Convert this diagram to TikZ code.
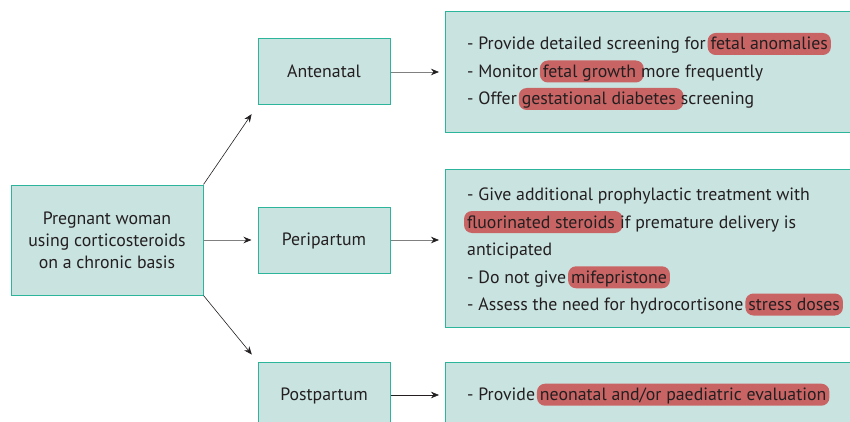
\documentclass[tikz,border=0pt]{standalone}
\usepackage{fontspec}
\setmainfont{PT Sans}
\usetikzlibrary{arrows.meta,calc}
\definecolor{boxfill}{HTML}{C9E3E0}
\definecolor{boxline}{HTML}{2DB59C}
\definecolor{hlred}{HTML}{C96464}
\definecolor{txt}{HTML}{231F20}
\definecolor{lgray}{HTML}{808080}
\newcommand{\tsp}{\ \null}
\begin{document}
\begin{tikzpicture}[x=1pt,y=-1pt,
  font=\fontsize{17.8}{22}\selectfont,
  box/.style={draw=boxline, line width=1pt, fill=boxfill, text=txt, align=center, inner sep=0pt},
  lbl/.style={box, minimum width=132pt, minimum height=66pt, text height=12.5pt, text depth=1pt},
  bigbox/.style={box, anchor=north west, minimum width=415pt},
  plain/.style={inner sep=0pt, anchor=base west, text=txt},
  hl/.style={fill=hlred, rounded corners=8pt, inner xsep=3pt, inner ysep=0pt, text height=17pt, text depth=5pt, anchor=text, text=txt},
  arr/.style={-{Stealth[length=8pt,width=6.5pt,color=txt]}, line width=0.8pt}]
\clip (0,0) rectangle (850,422);
% boxes
\node[box, minimum width=192pt, minimum height=110pt] (main) at (107,240) {Pregnant woman\\using corticosteroids\\on a chronic basis};
\node[lbl] (ante) at (324,72) {Antenatal};
\node[lbl] (peri) at (324,240) {Peripartum};
\node[lbl] (post) at (324,395) {Postpartum};
\node[bigbox, minimum height=121pt] (rante) at (445,11) {};
\node[bigbox, minimum height=158pt] (rperi) at (445,169) {};
\node[bigbox, minimum height=70pt] (rpost) at (445,362) {};
% antenatal text
\node[plain] (a1) at (467,50) {- Provide detailed screening for\tsp};
\node[hl] (a1h) at (a1.base east) {fetal anomalies};
\node[plain] (a2) at (467,77.5) {- Monitor\tsp};
\node[hl] (a2h) at (a2.base east) {fetal growth\tsp};
\node[plain] (a2e) at ([xshift=-3pt]a2h.base east) {more frequently};
\node[plain] (a3) at (467,105) {- Offer\tsp};
\node[hl] (a3h) at (a3.base east) {gestational diabetes\tsp};
\node[plain] (a3e) at ([xshift=-3pt]a3h.base east) {screening};
% peripartum text
\node[plain] (p1) at (467,200) {- Give additional prophylactic treatment with};
\node[hl] (p2h) at (467,228) {fluorinated steroids\tsp};
\node[plain] (p2e) at ([xshift=-3pt]p2h.base east) {if premature delivery is};
\node[plain] (p3) at (467,255.7) {anticipated};
\node[plain] (p4) at (467,283.3) {- Do not give\tsp};
\node[hl] (p4h) at (p4.base east) {mifepristone};
\node[plain] (p5) at (467,310.5) {- Assess the need for hydrocortisone\tsp};
\node[hl] (p5h) at (p5.base east) {stress doses};
% postpartum text
\node[plain] (q1) at (467,400.7) {- Provide\tsp};
\node[hl] (q1h) at (q1.base east) {neonatal and/or paediatric evaluation};
% arrows
\draw[arr, draw=txt, line width=0.6pt, shorten >=10.5pt] (main.north east) -- (ante.south west);
\draw[arr, draw=lgray, shorten >=6pt] (main.east) -- (peri.west);
\draw[arr, draw=txt, line width=0.6pt, shorten >=9pt] (main.south east) -- (post.north west);
\draw[arr, draw=lgray, shorten >=6pt] (ante.east) -- (ante.east -| rante.west);
\draw[arr, draw=lgray, shorten >=6pt] (peri.east) -- (peri.east -| rperi.west);
\draw[arr, draw=txt, line width=0.6pt, shorten >=6pt] (post.east) -- (post.east -| rpost.west);
\end{tikzpicture}
\end{document}
